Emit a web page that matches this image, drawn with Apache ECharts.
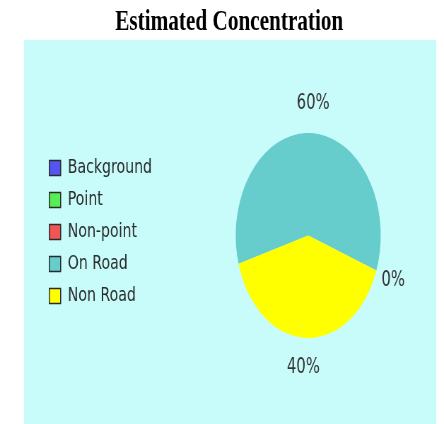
<!DOCTYPE html>
<html>
<head>
<meta charset="utf-8">
<script src="https://cdn.jsdelivr.net/npm/echarts@6/dist/echarts.min.js"></script>
<style>
html,body{margin:0;padding:0;background:#fff;overflow:hidden;}
#wrap{width:444px;height:424px;overflow:hidden;position:relative;}
#chart{width:628px;height:424px;transform:scaleX(0.707);transform-origin:0 0;position:absolute;left:0;top:0;}
</style>
</head>
<body>
<div id="wrap"><div id="chart"></div></div>
<script>
const titleText = 'Estimated Concentration';
const categories = ['Background', 'Point', 'Non-point', 'On Road', 'Non Road'];
const values = [0, 0, 0, 60, 40];
const colors = ['#5555ee', '#55ee55', '#ee5555', '#66cccc', '#ffff00'];

const chart = echarts.init(document.getElementById('chart'), null, {renderer: 'canvas'});
chart.setOption({
  animation: false,
  backgroundColor: '#ffffff',
  color: colors,
  title: {
    text: titleText,
    left: 158,
    top: 2,
    textStyle: {fontFamily: 'Liberation Serif', fontWeight: 'bold', fontSize: 30, color: '#000'}
  },
  graphic: [{
    type: 'rect', z: -10, silent: true,
    shape: {x: 34, y: 40, width: 583, height: 390},
    style: {fill: '#c8fcfb'}
  }],
  legend: {
    orient: 'vertical',
    left: 64,
    top: 153,
    itemWidth: 16,
    itemHeight: 15,
    itemGap: 12,
    icon: 'rect',
    data: categories,
    itemStyle: {borderColor: '#2a2a2a', borderWidth: 1.5},
    textStyle: {fontFamily: 'DejaVu Sans', fontSize: 20, color: '#2b2b2b', padding: [0, 0, 0, 5]}
  },
  series: [{
    type: 'pie',
    center: [436, 235.5],
    radius: 102.5,
    startAngle: -20,
    clockwise: false,
    avoidLabelOverlap: false,
    minShowLabelAngle: 0,
    data: categories.map((c, i) => ({name: c, value: values[i]})),
    label: {
      show: true,
      position: 'outside',
      formatter: '{d}%',
      fontFamily: 'DejaVu Sans',
      fontSize: 21,
      color: '#333',
      distanceToLabelLine: -21
    },
    labelLine: {show: false, length: 30, length2: 0},
    emphasis: {disabled: true}
  }]
});
</script>
</body>
</html>
